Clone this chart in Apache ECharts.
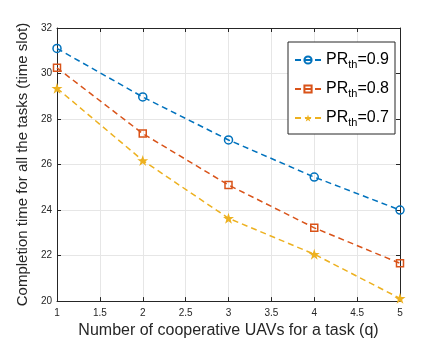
<!DOCTYPE html>
<html>
<head>
<meta charset="utf-8">
<script src="https://cdn.jsdelivr.net/npm/echarts@6/dist/echarts.min.js"></script>
<style>
  html, body { margin: 0; padding: 0; background: #fff; }
  #chart { width: 443px; height: 344px; }
</style>
</head>
<body>
<div id="chart"></div>
<script>
// number of cooperative UAVs (q)
var uavs = [1, 2, 3, 4, 5];
// completion time per PR_th threshold
var pr09 = [31.1, 28.97, 27.08, 25.45, 24.0];
var pr08 = [30.25, 27.36, 25.1, 23.22, 21.66];
var pr07 = [29.35, 26.18, 23.64, 22.06, 20.12];
var seriesNames = ["0.9", "0.8", "0.7"];

var STAR = "path://M50,0 L61.8,35.6 L99,35.6 L69,57.6 L80.3,93.3 L50,71.3 L19.7,93.3 L31,57.6 L1,35.6 L38.2,35.6 Z";
var font = "'Liberation Sans', Arial, sans-serif";

function pts(arr) {
  return uavs.map(function (q, i) { return [q, arr[i]]; });
}

function mkSeries(name, data, color, symbol, size, filled) {
  return {
    name: name,
    type: "line",
    data: pts(data),
    symbol: symbol,
    symbolSize: size,
    showAllSymbol: true,
    lineStyle: { color: color, width: 1.5, type: [6, 4] },
    itemStyle: {
      color: filled ? color : "rgba(0,0,0,0)",
      borderColor: color,
      borderWidth: filled ? 0 : 1.5
    },
    emphasis: { disabled: true },
    z: 3
  };
}

var chart = echarts.init(document.getElementById("chart"));
var axisLine = { show: true, lineStyle: { color: "#262626", width: 1 } };
var tick = { inside: true, length: 4, lineStyle: { color: "#262626" } };
var option = {
  animation: false,
  textStyle: { fontFamily: font },
  grid: { left: 57, right: 43, top: 28, bottom: 39, show: false },
  legend: {
    orient: "vertical",
    right: 48,
    top: 42,
    itemWidth: 26,
    itemHeight: 9,
    itemGap: 7,
    backgroundColor: "#fff",
    borderColor: "#262626",
    borderWidth: 1,
    padding: [6, 6, 6, 6],
    formatter: function (n) { return "{a|PR}{b|th}{a|=" + n + "}"; },
    textStyle: {
      fontFamily: font,
      color: "#000",
      rich: {
        a: { fontSize: 16, fontFamily: font, color: "#000", lineHeight: 20, verticalAlign: "middle" },
        b: { fontSize: 11, fontFamily: font, color: "#000", lineHeight: 20, verticalAlign: "bottom", padding: [11, 0, 0, 0] }
      }
    }
  },
  xAxis: [{
    type: "value",
    min: 1, max: 5, interval: 0.5,
    name: "Number of cooperative UAVs for a task (q)",
    nameLocation: "middle",
    nameGap: 20,
    nameTextStyle: { fontSize: 16, color: "#262626", fontFamily: font },
    axisLine: axisLine,
    axisTick: tick,
    axisLabel: { fontSize: 10, color: "#262626", margin: 7, fontFamily: font },
    splitLine: { show: true, lineStyle: { color: "#e6e6e6", width: 1 } }
  }, {
    type: "value", position: "top",
    min: 1, max: 5, interval: 0.5,
    axisLine: axisLine,
    axisTick: tick,
    axisLabel: { show: false },
    splitLine: { show: false }
  }],
  yAxis: [{
    type: "value",
    min: 20, max: 32, interval: 2,
    name: "Completion time for all the tasks (time slot)",
    nameLocation: "middle",
    nameGap: 19,
    nameTextStyle: { fontSize: 15, color: "#262626", fontFamily: font },
    axisLine: axisLine,
    axisTick: tick,
    axisLabel: { fontSize: 10, color: "#262626", margin: 5, fontFamily: font },
    splitLine: { show: true, lineStyle: { color: "#e6e6e6", width: 1 } }
  }, {
    type: "value", position: "right",
    min: 20, max: 32, interval: 2,
    axisLine: axisLine,
    axisTick: tick,
    axisLabel: { show: false },
    splitLine: { show: false }
  }],
  series: [
    mkSeries(seriesNames[0], pr09, "#0072BD", "circle", 8, false),
    mkSeries(seriesNames[1], pr08, "#D95319", "rect", 7, false),
    mkSeries(seriesNames[2], pr07, "#EDB120", STAR, 11, true)
  ]
};
chart.setOption(option);
</script>
</body>
</html>
